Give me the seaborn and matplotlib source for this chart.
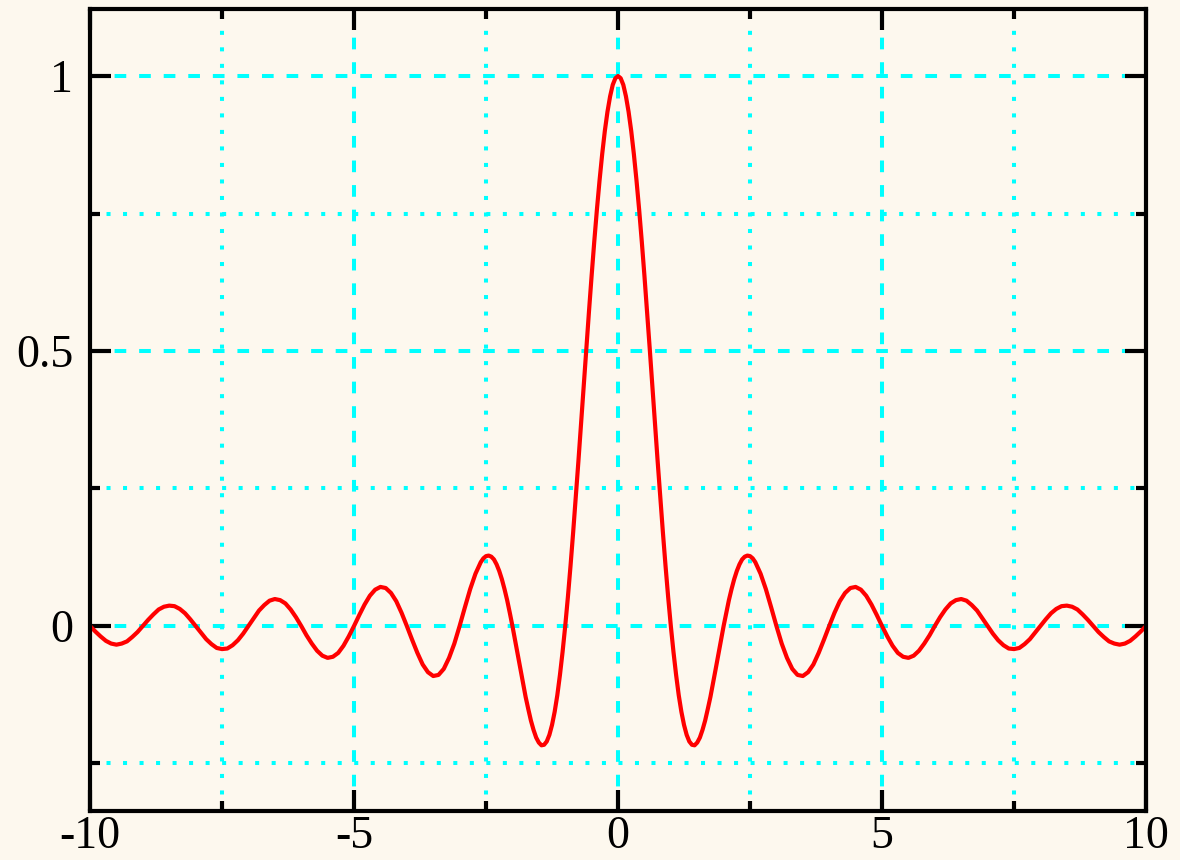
import numpy as np
import pandas as pd
import matplotlib
matplotlib.use("Agg")
import matplotlib.pyplot as plt
import seaborn as sns
from matplotlib.ticker import MultipleLocator, FixedFormatter, FixedLocator

# values for x >= 0 at steps of 0.1 (x = 0.0 ... 10.0)
y_pos = [
    1.000, 0.984, 0.935, 0.858, 0.757, 0.637, 0.505, 0.368, 0.234, 0.109,
    0.000, -0.089, -0.156, -0.198, -0.216, -0.212, -0.189, -0.151, -0.104, -0.052,
    0.000, 0.047, 0.085, 0.112, 0.126, 0.127, 0.116, 0.095, 0.067, 0.034,
    0.000, -0.032, -0.058, -0.078, -0.089, -0.091, -0.084, -0.070, -0.049, -0.025,
    0.000, 0.024, 0.045, 0.060, 0.069, 0.071, 0.066, 0.055, 0.039, 0.020,
    0.000, -0.019, -0.036, -0.049, -0.056, -0.058, -0.054, -0.045, -0.032, -0.017,
    0.000, 0.016, 0.030, 0.041, 0.047, 0.049, 0.046, 0.038, 0.028, 0.014,
    0.000, -0.014, -0.026, -0.035, -0.041, -0.042, -0.040, -0.033, -0.024, -0.012,
    0.000, 0.012, 0.023, 0.031, 0.036, 0.037, 0.035, 0.030, 0.021, 0.011,
    0.000, -0.011, -0.020, -0.028, -0.032, -0.034, -0.032, -0.027, -0.019, -0.010,
    0.000,
]
# values for x < 0 (x = -10.0 ... -0.1)
y_neg = [
    0.000, -0.010, -0.019, -0.027, -0.032, -0.034, -0.032, -0.028, -0.020, -0.011,
    0.000, 0.011, 0.021, 0.030, 0.035, 0.037, 0.036, 0.031, 0.023, 0.012,
    0.000, -0.012, -0.024, -0.033, -0.040, -0.042, -0.041, -0.035, -0.026, -0.014,
    0.000, 0.014, 0.028, 0.038, 0.046, 0.049, 0.047, 0.041, 0.030, 0.016,
    0.000, -0.017, -0.032, -0.045, -0.054, -0.058, -0.056, -0.049, -0.036, -0.019,
    0.000, 0.020, 0.039, 0.055, 0.066, 0.071, 0.069, 0.060, 0.045, 0.024,
    0.000, -0.025, -0.049, -0.070, -0.084, -0.091, -0.089, -0.078, -0.058, -0.032,
    0.000, 0.034, 0.067, 0.095, 0.116, 0.127, 0.126, 0.112, 0.085, 0.047,
    0.000, -0.052, -0.104, -0.151, -0.189, -0.212, -0.216, -0.198, -0.156, -0.089,
    0.000, 0.109, 0.234, 0.368, 0.505, 0.637, 0.757, 0.858, 0.935, 0.984,
]
y_coarse = y_neg + y_pos
x_coarse = np.round(np.linspace(-10, 10, 201), 1)

# extra readings in the central lobes, halfway between the samples above
x_fine = [
    -2.55, -2.45, -2.35, -2.25, -2.15, -2.05, -1.95, -1.85, -1.75, -1.65, -1.55, -1.45, -1.35,
    -1.25, -1.15, -1.05, -0.95, -0.85, -0.75, -0.65, -0.55, -0.45, -0.35, -0.25, -0.15, -0.05,
    0.05, 0.15, 0.25, 0.35, 0.45, 0.55, 0.65, 0.75, 0.85, 0.95, 1.05, 1.15, 1.25,
    1.35, 1.45, 1.55, 1.65, 1.75, 1.85, 1.95, 2.05, 2.15, 2.25, 2.35, 2.45, 2.55,
]
y_fine = [
    0.123, 0.128, 0.121, 0.100, 0.067, 0.024, -0.026, -0.078, -0.129, -0.172, -0.203, -0.217, -0.210,
    -0.180, -0.126, -0.047, 0.052, 0.170, 0.300, 0.436, 0.572, 0.699, 0.810, 0.900, 0.963, 0.996,
    0.996, 0.963, 0.900, 0.810, 0.699, 0.572, 0.436, 0.300, 0.170, 0.052, -0.047, -0.126, -0.180,
    -0.210, -0.217, -0.203, -0.172, -0.129, -0.078, -0.026, 0.024, 0.067, 0.100, 0.121, 0.128, 0.123,
]

x_major = [-10, -5, 0, 5, 10]
x_labels = ["-10", "-5", "0", "5", "10"]
y_major = [0, 0.5, 1]
y_labels = ["0", "0.5", "1"]

df = pd.concat([
    pd.DataFrame({"x": x_coarse, "y": y_coarse}),
    pd.DataFrame({"x": x_fine, "y": y_fine}),
]).sort_values("x").reset_index(drop=True)

sns.set_theme(style="ticks")
plt.rcParams["font.family"] = ["Liberation Serif", "DejaVu Serif"]

bg = "#FDF8EE"
fig = plt.figure(figsize=(11.8, 8.6), dpi=100, facecolor=bg)
ax = fig.add_axes([0.0763, 0.057, 0.8949, 0.9325])
ax.set_facecolor(bg)

cyan = "#00FFFF"
ax.set_xlim(-10, 10)
ax.set_ylim(-0.3364, 1.1218)
ax.xaxis.set_major_locator(FixedLocator(x_major))
ax.xaxis.set_major_formatter(FixedFormatter(x_labels))
ax.yaxis.set_major_locator(FixedLocator(y_major))
ax.yaxis.set_major_formatter(FixedFormatter(y_labels))
ax.xaxis.set_minor_locator(MultipleLocator(2.5))
ax.yaxis.set_minor_locator(MultipleLocator(0.25))

ax.grid(which="major", color=cyan, lw=2.9, linestyle=(0, (2.9, 3.2)), dash_capstyle="butt")
ax.grid(which="minor", color=cyan, lw=2.9, linestyle=(0, (1.0, 3.1)), dash_capstyle="butt")
ax.set_axisbelow(True)

sns.lineplot(data=df, x="x", y="y", ax=ax, color="#FF0000", lw=3.0, zorder=3,
             solid_joinstyle="round", solid_capstyle="round")

ax.set_xlabel("")
ax.set_ylabel("")
for s in ax.spines.values():
    s.set_visible(True)
    s.set_linewidth(3.0)
    s.set_color("black")
    s.set_zorder(4)

ax.tick_params(which="both", direction="in", top=True, right=True, color="black",
               labelsize=33, labelcolor="black")
ax.tick_params(which="major", length=15, width=3.0)
ax.tick_params(which="minor", length=7.5, width=3.0)
ax.tick_params(axis="y", which="major", pad=12)
ax.tick_params(axis="x", which="major", pad=3)

fig.savefig("out.png", dpi=100, facecolor=bg)
